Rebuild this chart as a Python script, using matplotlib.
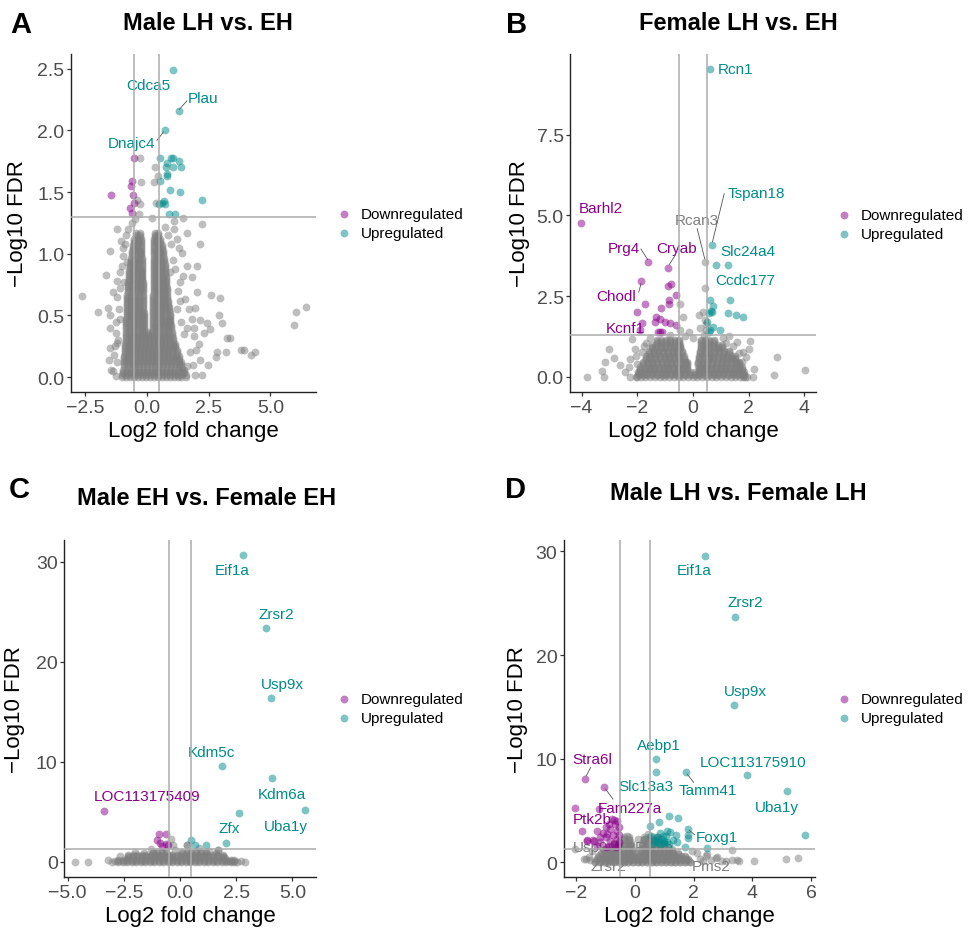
import matplotlib
matplotlib.use('Agg')
import matplotlib.pyplot as plt

plt.rcParams['font.family'] = ['Liberation Sans', 'DejaVu Sans']

GREY = '#7F7F7F'
DOWN = '#8B008B'
UP = '#008B8B'
LABEL_COLORS = {'up': UP, 'down': DOWN, 'ns': GREY}
FDR_CUT = 1.301
LFC_CUT = 0.5

# ---------------- Panel A : Male LH vs. EH ----------------
A_up = [(1.07, 2.49), (1.30, 2.16), (0.72, 2.00), (0.54, 1.78), (0.99, 1.78), (1.04, 1.78),
        (0.80, 1.74), (1.30, 1.75), (0.77, 1.70), (1.04, 1.70), (1.39, 1.70), (0.82, 1.65),
        (0.80, 1.63), (0.55, 1.59), (0.93, 1.52), (1.35, 1.50), (2.22, 1.44), (0.68, 1.43),
        (0.62, 1.41), (0.72, 1.40), (0.51, 1.40), (0.88, 1.32), (1.14, 1.32)]
A_down = [(-1.46, 1.48), (-0.53, 1.78), (-0.61, 1.59), (-0.64, 1.55), (-0.54, 1.48),
          (-0.53, 1.41), (-0.70, 1.37), (-0.59, 1.33)]
A_grey = [(-2.64, 0.66), (-1.99, 0.53), (-1.65, 0.83), (-1.50, 1.02), (-1.58, 0.56), (-1.49, 0.50),
          (-1.49, 0.40), (-1.24, 0.36), (-1.49, 0.24), (-1.55, 0.14), (-1.46, 0.06), (-1.24, 0.01),
          (-1.19, 1.20), (-0.95, 1.05), (-0.84, 1.15), (-1.01, 0.90), (-1.19, 0.78), (-1.35, 0.69),
          (-0.81, 0.93), (-1.08, 0.47), (-1.31, 0.18), (-1.22, 0.28), (-0.92, 0.77),
          (-0.26, 1.78), (-0.23, 1.58), (-0.38, 1.44), (-0.27, 1.40), (-0.30, 1.32), (0.34, 1.70),
          (0.30, 1.58), (0.38, 1.41), (0.47, 1.63), (0.20, 1.29), (-0.47, 1.28), (1.08, 1.27),
          (1.45, 1.29), (2.24, 1.24), (2.14, 1.08), (2.04, 0.90), (1.82, 0.81), (2.03, 0.69),
          (2.59, 0.67), (2.97, 0.64), (2.91, 0.50), (3.04, 0.44), (2.43, 0.44), (2.16, 0.46),
          (2.57, 0.39), (2.30, 0.36), (1.82, 0.47), (3.24, 0.32), (3.38, 0.32), (3.19, 0.20),
          (2.84, 0.20), (2.81, 0.16), (2.46, 0.10), (2.16, 0.14), (2.23, 0.02), (2.09, 0.27),
          (1.62, 0.40), (1.62, 0.09), (3.82, 0.22), (3.92, 0.22), (4.23, 0.18), (4.36, 0.20),
          (5.95, 0.42), (6.04, 0.53), (6.45, 0.57), (1.62, 1.17), (1.42, 1.01), (1.62, 0.90),
          (1.35, 0.77), (1.22, 1.12), (1.55, 0.63), (1.89, 0.33), (1.96, 0.56),
          (-1.05, 1.10), (-0.95, 0.98), (-1.10, 0.85), (-1.20, 0.65), (-1.12, 0.55), (-1.25, 0.45),
          (-1.15, 0.30), (-1.30, 0.25), (-1.20, 0.12), (-1.35, 0.05), (-1.10, 0.72), (-0.88, 1.08),
          (-0.75, 1.20), (-0.62, 1.25), (0.72, 1.22), (0.85, 1.15), (0.98, 1.08), (1.05, 0.95),
          (1.15, 0.88), (1.25, 0.70), (1.20, 0.55), (1.35, 0.62), (1.40, 0.45), (1.50, 0.35),
          (1.75, 0.20), (1.85, 0.10), (1.95, 0.02), (1.10, 1.20), (1.30, 1.05), (0.92, 0.85),
          (1.45, 0.82), (1.70, 0.55), (1.90, 0.40), (2.00, 0.22)]
# dense core: (FDR values of a band, fold changes of the genes in that band)
A_core_rows = [
    ([1.17, 1.153, 1.137], [-0.45, -0.29, 0.31, 0.47]),
    ([1.12, 1.103, 1.087], [-0.50, -0.37, -0.25, 0.30, 0.43, 0.55]),
    ([1.07, 1.053, 1.037], [-0.55, -0.40, -0.25, 0.29, 0.45, 0.62]),
    ([1.02, 1.003, 0.987], [-0.60, -0.44, -0.28, -0.23, 0.29, 0.42, 0.55, 0.67]),
    ([0.97, 0.953, 0.937], [-0.64, -0.48, -0.33, -0.21, 0.28, 0.42, 0.56, 0.70]),
    ([0.92, 0.903, 0.887], [-0.68, -0.52, -0.36, -0.20, 0.28, 0.43, 0.58, 0.73]),
    ([0.87, 0.853, 0.837], [-0.71, -0.55, -0.39, -0.23, -0.19, 0.27, 0.43, 0.59, 0.75]),
    ([0.82, 0.803, 0.787], [-0.73, -0.57, -0.41, -0.25, -0.18, 0.27, 0.40, 0.53, 0.66, 0.77]),
    ([0.77, 0.753, 0.737], [-0.75, -0.59, -0.43, -0.27, -0.17, 0.27, 0.40, 0.53, 0.66, 0.79]),
    ([0.72, 0.703, 0.687], [-0.77, -0.61, -0.45, -0.29, -0.17, 0.27, 0.41, 0.55, 0.69, 0.80]),
    ([0.67, 0.653, 0.637], [-0.79, -0.63, -0.47, -0.31, -0.16, 0.26, 0.40, 0.54, 0.68, 0.83]),
    ([0.62, 0.603, 0.587], [-0.80, -0.64, -0.48, -0.32, -0.15, 0.26, 0.41, 0.56, 0.71, 0.86]),
    ([0.57, 0.553, 0.537], [-0.81, -0.65, -0.49, -0.33, -0.14, 0.25, 0.41, 0.57, 0.73, 0.89]),
    ([0.52, 0.503, 0.487], [-0.82, -0.66, -0.50, -0.34, -0.18, -0.13, 0.25, 0.41, 0.57, 0.73, 0.92]),
    ([0.47, 0.453, 0.437], [-0.83, -0.67, -0.51, -0.35, -0.19, -0.12, 0.24, 0.40, 0.56, 0.72, 0.88, 0.95]),
    ([0.42, 0.403, 0.387], [-0.84, -0.68, -0.52, -0.36, -0.20, -0.11, 0.23, 0.39, 0.55, 0.71, 0.87, 0.98]),
    ([0.37, 0.353, 0.337], [-0.85, -0.69, -0.53, -0.37, -0.21, -0.10, 0.06, 0.22, 0.38, 0.54, 0.70, 0.86,
                            1.00]),
    ([0.32, 0.303, 0.287], [-0.86, -0.70, -0.54, -0.38, -0.22, -0.06, 0.10, 0.26, 0.42, 0.58, 0.74, 0.90,
                            1.05]),
    ([0.27, 0.253, 0.237], [-0.88, -0.72, -0.56, -0.40, -0.24, -0.08, 0.08, 0.24, 0.40, 0.56, 0.72, 0.88,
                            1.04, 1.12]),
    ([0.22, 0.203, 0.187], [-0.90, -0.74, -0.58, -0.42, -0.26, -0.10, 0.06, 0.22, 0.38, 0.54, 0.70, 0.86,
                            1.02, 1.20]),
    ([0.17, 0.153, 0.137], [-0.92, -0.76, -0.60, -0.44, -0.28, -0.12, 0.04, 0.20, 0.36, 0.52, 0.68, 0.84,
                            1.00, 1.16, 1.30]),
    ([0.12, 0.103, 0.087], [-0.94, -0.78, -0.62, -0.46, -0.30, -0.14, 0.02, 0.18, 0.34, 0.50, 0.66, 0.82,
                            0.98, 1.14, 1.30, 1.40]),
    ([0.06, 0.045, 0.03], [-0.97, -0.81, -0.65, -0.49, -0.33, -0.17, -0.01, 0.15, 0.31, 0.47, 0.63, 0.79,
                           0.95, 1.11, 1.27, 1.43, 1.50]),
    ([0.015, 0.00], [-1.00, -0.84, -0.68, -0.52, -0.36, -0.20, -0.04, 0.12, 0.28, 0.44, 0.60, 0.76, 0.92,
                     1.08, 1.24, 1.40, 1.60]),
]
A_labels = [("Cdca5", 0.07, 2.37, 'up', None),
            ("Plau", 2.27, 2.26, 'up', (1.62, 2.24, 1.31, 2.17)),
            ("Dnajc4", -0.64, 1.90, 'up', (0.41, 1.92, 0.68, 1.99))]
A_xticks = [-2.5, 0.0, 2.5, 5.0]
A_xticklabels = ['\u22122.5', '0.0', '2.5', '5.0']
A_yticks = [0.0, 0.5, 1.0, 1.5, 2.0, 2.5]
A_yticklabels = ['0.0', '0.5', '1.0', '1.5', '2.0', '2.5']

# ---------------- Panel B : Female LH vs. EH ----------------
B_up = [(0.60, 9.52), (0.68, 4.07), (0.81, 3.47), (1.25, 3.47), (0.61, 2.39), (1.34, 2.39),
        (0.71, 2.19), (0.67, 2.01), (0.59, 1.99), (0.63, 2.03), (1.25, 1.99), (1.53, 1.90),
        (1.81, 1.85), (0.50, 1.71), (0.73, 1.54), (0.97, 1.46), (0.61, 1.44), (0.56, 1.40)]
B_down = [(-4.01, 4.77), (-1.60, 3.56), (-0.90, 3.38), (-1.86, 2.96), (-0.91, 2.80), (-0.80, 2.86),
          (-0.60, 2.54), (-0.85, 2.39), (-1.71, 2.26), (-0.87, 2.26), (-2.00, 2.00), (-1.16, 2.12),
          (-1.33, 1.85), (-1.37, 1.71), (-1.19, 1.78), (-1.01, 1.70), (-0.83, 1.68), (-0.61, 1.61),
          (-1.84, 1.68), (-1.90, 1.46), (-1.27, 1.40), (-1.12, 1.40), (-1.19, 1.39)]
B_grey = [(-2.18, 1.18), (-3.01, 0.87), (-3.16, 0.46), (-2.83, 0.58), (-2.62, 0.35), (-3.28, 0.17),
          (-3.19, 0.00), (-3.80, 0.00), (-2.26, 0.56), (-2.44, 0.15), (-2.26, 0.00), (-2.02, 0.00),
          (-1.84, 0.77), (2.05, 1.10), (2.02, 0.87), (1.81, 0.77), (3.01, 0.61), (2.91, 0.06),
          (4.02, 0.20), (2.17, 0.00), (1.81, 0.00), (1.09, 1.20), (1.57, 1.08), (-0.83, 1.28),
          (-0.47, 2.27), (-0.35, 1.85), (0.23, 1.92), (0.37, 2.01), (0.43, 1.75), (0.47, 1.65),
          (0.44, 3.57), (0.44, 2.74), (-2.00, 0.40), (-2.10, 0.85), (-1.70, 1.05), (-1.55, 1.20),
          (-0.30, 1.25), (0.00, 1.20), (-0.15, 1.40), (1.30, 1.25), (1.45, 0.95), (1.75, 0.45),
          (1.90, 0.60), (2.20, 0.25), (-2.30, 0.30), (-1.95, 0.15), (0.25, 1.50), (-0.45, 1.45),
          (0.45, 1.45), (0.40, 1.30), (1.20, 1.05), (1.65, 0.75), (-1.75, 0.95), (-2.05, 0.65)]
B_core_rows = [
    ([1.15, 1.10, 1.05], [-1.30, -1.14, -0.98, -0.82, -0.66, -0.50, 0.27, 0.43, 0.59, 0.75]),
    ([0.98, 0.93, 0.88], [-1.48, -1.32, -1.16, -1.00, -0.84, -0.68, -0.52, -0.45, 0.27, 0.43, 0.59, 0.75,
                          0.91, 1.05]),
    ([0.81, 0.76, 0.71], [-1.58, -1.41, -1.24, -1.07, -0.90, -0.73, -0.56, -0.40, 0.25, 0.42, 0.59, 0.76,
                          0.93, 1.10, 1.28]),
    ([0.64, 0.59, 0.54], [-1.70, -1.53, -1.36, -1.19, -1.02, -0.85, -0.68, -0.51, -0.34, 0.22, 0.39, 0.56,
                          0.73, 0.90, 1.07, 1.24, 1.41, 1.50]),
    ([0.47, 0.42, 0.37], [-1.80, -1.63, -1.46, -1.29, -1.12, -0.95, -0.78, -0.61, -0.44, -0.27, -0.20, 0.18,
                          0.35, 0.52, 0.69, 0.86, 1.03, 1.20, 1.37, 1.54, 1.65]),
    ([0.30, 0.25, 0.20], [-1.90, -1.73, -1.56, -1.39, -1.22, -1.05, -0.88, -0.71, -0.54, -0.37, -0.20, 0.20,
                          0.31, 0.48, 0.65, 0.82, 0.99, 1.16, 1.33, 1.50, 1.67, 1.75]),
    ([0.14, 0.09, 0.045], [-1.98, -1.81, -1.64, -1.47, -1.30, -1.13, -0.96, -0.79, -0.62, -0.45, -0.28, -0.11,
                           0.06, 0.23, 0.40, 0.57, 0.74, 0.91, 1.08, 1.25, 1.42, 1.59, 1.76, 1.85]),
    ([0.00], [-2.05, -1.88, -1.71, -1.54, -1.37, -1.20, -1.03, -0.86, -0.69, -0.52, -0.35, -0.18, -0.01, 0.16,
              0.33, 0.50, 0.67, 0.84, 1.01, 1.18, 1.35, 1.52, 1.69, 1.86, 1.95]),
]
B_labels = [("Rcn1", 1.52, 9.53, 'up', None),
            ("Tspan18", 2.29, 5.69, 'up', (1.12, 5.67, 0.70, 4.18)),
            ("Barhl2", -3.33, 5.22, 'down', None),
            ("Rcan3", 0.12, 4.86, 'ns', (0.15, 4.59, 0.42, 3.66)),
            ("Prg4", -2.50, 4.00, 'down', (-1.87, 3.96, -1.63, 3.63)),
            ("Cryab", -0.59, 4.00, 'down', (-0.62, 3.79, -0.85, 3.48)),
            ("Slc24a4", 1.99, 3.91, 'up', None),
            ("Ccdc177", 1.87, 3.00, 'up', None),
            ("Chodl", -2.77, 2.51, 'down', (-1.95, 2.62, -1.87, 2.88)),
            ("Kcnf1", -2.43, 1.50, 'down', None)]
B_xticks = [-4, -2, 0, 2, 4]
B_xticklabels = ['\u22124', '\u22122', '0', '2', '4']
B_yticks = [0.0, 2.5, 5.0, 7.5]
B_yticklabels = ['0.0', '2.5', '5.0', '7.5']

# ---------------- Panel C : Male EH vs. Female EH ----------------
C_up = [(2.82, 30.7), (3.81, 23.4), (4.05, 16.4), (1.85, 9.6), (4.08, 8.4), (5.56, 5.2),
        (2.64, 4.9), (2.03, 1.93), (0.49, 2.16), (0.67, 1.66), (1.14, 1.73)]
C_down = [(-3.37, 5.1), (-0.93, 2.76), (-0.64, 2.76), (-1.04, 2.16), (-0.89, 1.93),
          (-0.62, 1.83), (-0.79, 1.56), (-0.52, 1.66)]
C_grey = [(-4.67, 0.0), (-4.08, 0.0), (-3.04, 0.0), (2.89, 0.0), (1.71, 1.16), (-2.00, 1.0),
          (-0.30, 1.66), (-2.37, 0.33), (-2.67, 0.6), (-2.90, 0.05), (2.52, 0.0), (2.20, 0.1),
          (1.60, 0.9), (1.85, 0.5), (-1.30, 1.3), (-1.60, 0.9), (0.85, 1.4), (0.30, 1.65),
          (2.00, 0.4), (-3.20, 0.2), (2.70, 0.05), (-0.42, 2.27), (0.33, 1.67), (1.71, 1.23),
          (-0.20, 1.20), (1.30, 1.10)]
C_core_rows = [
    ([0.00, 0.11, 0.22], [-2.75, -2.55, -2.35, -2.15, -1.95, -1.75, -1.55, -1.35, -1.15, -0.95, -0.75, -0.55,
                          -0.35, -0.15, 0.05, 0.25, 0.45, 0.65, 0.85, 1.05, 1.25, 1.45, 1.65, 1.85, 2.05,
                          2.25, 2.40]),
    ([0.45, 0.55, 0.65], [-2.30, -2.10, -1.90, -1.70, -1.50, -1.30, -1.10, -0.90, -0.70, -0.50, -0.35, -0.15,
                          0.05, 0.25, 0.45, 0.65, 0.85, 1.05, 1.25, 1.45, 1.65, 1.90]),
    ([0.85, 1.00], [-1.20, -1.00, -0.80, -0.60, 0.10, 0.30, 0.50, 0.70, 0.95, 1.15]),
]
C_labels = [("Eif1a", 2.33, 29.2, 'up', None),
            ("Zrsr2", 4.30, 24.8, 'up', None),
            ("Usp9x", 4.54, 17.8, 'up', None),
            ("Kdm5c", 1.38, 11.0, 'up', None),
            ("Kdm6a", 4.54, 6.83, 'up', None),
            ("Uba1y", 4.72, 3.57, 'up', None),
            ("Zfx", 2.17, 3.40, 'up', None),
            ("LOC113175409", -1.47, 6.57, 'down', None)]
C_xticks = [-5.0, -2.5, 0.0, 2.5, 5.0]
C_xticklabels = ['\u22125.0', '\u22122.5', '0.0', '2.5', '5.0']
C_yticks = [0, 10, 20, 30]
C_yticklabels = ['0', '10', '20', '30']

# ---------------- Panel D : Male LH vs. Female LH ----------------
D_up = [(2.37, 29.6), (3.41, 23.7), (3.36, 15.2), (0.73, 9.96), (0.70, 8.67), (1.75, 8.67),
        (3.83, 8.42), (5.18, 6.84), (5.79, 2.67), (2.46, 1.38), (1.80, 2.63), (1.79, 3.21),
        (0.83, 3.92), (1.17, 4.49), (1.48, 4.27), (0.52, 3.47), (1.09, 3.05), (1.20, 2.89),
        (0.86, 2.83), (0.97, 2.57), (1.43, 1.93), (1.71, 1.50), (1.39, 2.63), (1.82, 2.31),
        (0.70, 2.20), (0.80, 2.00), (0.90, 2.30), (1.00, 2.10), (1.10, 2.00), (0.75, 2.40),
        (0.95, 1.90), (0.60, 1.80), (1.05, 2.50), (0.65, 2.10), (0.85, 1.70), (1.15, 1.75),
        (1.30, 2.20), (0.55, 2.50)]
D_down = [(-1.69, 8.09), (-1.06, 7.29), (-2.03, 5.24), (-1.23, 5.14), (-1.80, 2.99), (-1.29, 2.99),
          (-1.63, 2.15), (-1.43, 2.15), (-0.79, 4.18), (-0.67, 3.69), (-0.84, 3.21), (-0.62, 3.05),
          (-0.96, 2.73), (-0.75, 2.60), (-0.62, 2.25), (-0.84, 2.09), (-1.00, 2.40), (-0.72, 1.80),
          (-0.58, 1.70), (-1.64, 2.09), (-1.41, 2.09), (-1.18, 1.93), (-0.90, 1.60), (-1.18, 2.40),
          (-0.55, 3.40), (-0.60, 4.00), (-0.70, 4.10), (-0.88, 3.70), (-1.00, 3.40), (-0.53, 2.60),
          (-0.65, 1.50), (-1.30, 1.60), (-1.00, 1.50), (-0.55, 2.00), (-1.10, 2.80)]
D_grey = [(3.32, 1.22), (3.47, 0.22), (3.53, 0.16), (4.07, 0.16), (5.14, 0.29), (5.57, 0.41),
          (3.32, 0.22), (2.79, 0.48), (2.45, 0.80), (2.43, 0.64), (3.11, 0.16), (2.77, 0.40),
          (0.46, 2.73), (0.35, 2.25), (-1.75, 0.32), (-1.52, 0.20), (-2.03, 1.28), (-0.27, 2.57),
          (-1.66, 0.32), (2.20, 0.30), (2.10, 0.90), (2.30, 0.10), (1.95, 1.10), (-1.55, 0.55),
          (-1.45, 1.10), (0.10, 2.30), (2.60, 0.20), (2.95, 0.10)]
D_core_rows = [
    ([2.45, 2.30, 2.15], [-0.38, -0.22, 0.32, 0.48, 0.64, 0.78]),
    ([1.85, 1.70, 1.55], [-0.70, -0.54, -0.38, -0.22, -0.15, 0.25, 0.41, 0.57, 0.73, 0.89, 1.00]),
    ([1.25, 1.10], [-1.05, -0.89, -0.73, -0.57, -0.41, -0.25, -0.10, 0.20, 0.36, 0.52, 0.68, 0.84, 1.00,
                    1.16, 1.25]),
    ([0.95, 0.80], [-1.15, -0.99, -0.83, -0.67, -0.51, -0.35, -0.19, -0.08, 0.17, 0.33, 0.49, 0.65, 0.81,
                    0.97, 1.13, 1.29, 1.45]),
    ([0.65, 0.50], [-1.25, -1.09, -0.93, -0.77, -0.61, -0.45, -0.29, -0.13, -0.05, 0.13, 0.29, 0.45, 0.61,
                    0.77, 0.93, 1.09, 1.25, 1.41, 1.57, 1.70]),
    ([0.32, 0.20], [-1.30, -1.14, -0.98, -0.82, -0.66, -0.50, -0.34, -0.18, -0.02, 0.14, 0.30, 0.46, 0.62,
                    0.78, 0.94, 1.10, 1.26, 1.42, 1.58, 1.74, 1.80]),
    ([0.00, 0.08], [-1.35, -1.19, -1.03, -0.87, -0.71, -0.55, -0.39, -0.23, -0.07, 0.09, 0.25, 0.41, 0.57,
                    0.73, 0.89, 1.05, 1.21, 1.37, 1.53, 1.69, 1.88]),
]
D_labels = [("Eif1a", 2.00, 28.2, 'up', None),
            ("Zrsr2", 3.77, 25.1, 'up', None),
            ("Usp9x", 3.75, 16.5, 'up', None),
            ("Aebp1", 0.82, 11.3, 'up', None),
            ("LOC113175910", 4.02, 9.73, 'up', None),
            ("Stra6l", -1.45, 9.96, 'down', (-1.51, 9.16, -1.66, 8.35)),
            ("Slc13a3", 0.36, 7.32, 'up', None),
            ("Tamm41", 2.49, 7.00, 'up', (2.00, 7.71, 1.78, 8.51)),
            ("Uba1y", 4.84, 5.30, 'up', None),
            ("Fam227a", -0.18, 5.20, 'down', (-0.75, 6.10, -1.00, 7.07)),
            ("Ptk2b", -1.47, 4.20, 'down', None),
            ("Foxg1", 2.79, 2.41, 'up', (2.03, 2.67, 1.84, 3.12)),
            ("Usp9x", -1.37, 1.45, 'ns', None),
            ("Ptk2b", 0.67, 1.45, 'ns', None),
            ("Zrsr2", -0.90, -0.33, 'ns', None),
            ("Pms2", 2.60, -0.33, 'ns', None)]
D_xticks = [-2, 0, 2, 4, 6]
D_xticklabels = ['\u22122', '0', '2', '4', '6']
D_yticks = [0, 10, 20, 30]
D_yticklabels = ['0', '10', '20', '30']

TITLES = ["Male LH vs. EH", "Female LH vs. EH", "Male EH vs. Female EH", "Male LH vs. Female LH"]
LETTERS = ["A", "B", "C", "D"]

# ---------------- layout (figure fractions / pixels) ----------------
W, H = 972, 929
panels = [
    dict(rect=[0.0727, 0.577, 0.2524, 0.3638], up=A_up, down=A_down, grey=A_grey, core=A_core_rows,
         labels=A_labels, xlim=(-3.08, 6.84), ylim=(-0.12, 2.62), xt=A_xticks, xtl=A_xticklabels,
         yt=A_yticks, ytl=A_yticklabels, leg=(336.5, 224.5), ylab_x=-0.2148,
         title=(208, 30), letter=(10, 33)),
    dict(rect=[0.5864, 0.577, 0.2531, 0.3638], up=B_up, down=B_down, grey=B_grey, core=B_core_rows,
         labels=B_labels, xlim=(-4.42, 4.42), ylim=(-0.47, 10.0), xt=B_xticks, xtl=B_xticklabels,
         yt=B_yticks, ytl=B_yticklabels, leg=(836.5, 225.5), ylab_x=-0.207,
         title=(738, 30), letter=(506, 33)),
    dict(rect=[0.0658, 0.0549, 0.2593, 0.3628], up=C_up, down=C_down, grey=C_grey, core=C_core_rows,
         labels=C_labels, xlim=(-5.16, 6.05), ylim=(-1.5, 32.2), xt=C_xticks, xtl=C_xticklabels,
         yt=C_yticks, ytl=C_yticklabels, leg=(336.5, 709.5), ylab_x=-0.1952,
         title=(207, 505), letter=(9, 498)),
    dict(rect=[0.5799, 0.0549, 0.2585, 0.3628], up=D_up, down=D_down, grey=D_grey, core=D_core_rows,
         labels=D_labels, xlim=(-2.43, 6.13), ylim=(-1.41, 31.1), xt=D_xticks, xtl=D_xticklabels,
         yt=D_yticks, ytl=D_yticklabels, leg=(836.5, 709.5), ylab_x=-0.182,
         title=(738, 500), letter=(505, 498)),
]

fig = plt.figure(figsize=(W / 100, H / 100), dpi=100)
MS = 32

for i, p in enumerate(panels):
    ax = fig.add_axes(p['rect'])
    gx = [pt[0] for pt in p['grey']]
    gy = [pt[1] for pt in p['grey']]
    for (ys, xs) in p['core']:
        for y in ys:
            gx.extend(xs)
            gy.extend([y] * len(xs))
    ax.scatter(gx, gy, s=MS, c=GREY, alpha=0.5, linewidths=0, zorder=2)
    ax.scatter([pt[0] for pt in p['down']], [pt[1] for pt in p['down']], s=MS, c=DOWN,
               alpha=0.5, linewidths=0, zorder=2.1, label='Downregulated')
    ax.scatter([pt[0] for pt in p['up']], [pt[1] for pt in p['up']], s=MS, c=UP,
               alpha=0.5, linewidths=0, zorder=2.1, label='Upregulated')
    for v in (-LFC_CUT, LFC_CUT):
        ax.axvline(v, color='#ABABAB', lw=1.1, zorder=3)
    ax.axhline(FDR_CUT, color='#ABABAB', lw=1.1, zorder=3)

    for (txt, tx, ty, kind, seg) in p['labels']:
        ax.text(tx, ty, txt, color=LABEL_COLORS[kind], fontsize=11, ha='center', va='center',
                zorder=1.5)
        if seg is not None:
            ax.plot([seg[0], seg[2]], [seg[1], seg[3]], color='#555555', lw=0.6, zorder=1.6)

    ax.set_xlim(*p['xlim'])
    ax.set_ylim(*p['ylim'])
    ax.set_xticks(p['xt'])
    ax.set_xticklabels(p['xtl'])
    ax.set_yticks(p['yt'])
    ax.set_yticklabels(p['ytl'])
    ax.tick_params(axis='both', labelsize=14, labelcolor='#4D4D4D', color='#333333',
                   length=3, width=0.9)
    ax.tick_params(axis='x', pad=2)
    ax.tick_params(axis='y', pad=1.5)
    for s in ('top', 'right'):
        ax.spines[s].set_visible(False)
    for s in ('left', 'bottom'):
        ax.spines[s].set_color('#222222')
        ax.spines[s].set_linewidth(1.0)

    ax.set_xlabel('Log2 fold change', fontsize=16, va='center')
    ax.xaxis.set_label_coords(0.5, -0.1154)
    ax.set_ylabel('\u2212Log10 FDR', fontsize=16, va='center', ha='center')
    ax.yaxis.set_label_coords(p['ylab_x'], 0.5)

    lx, ly = p['leg']
    ax.legend(loc='center left', bbox_to_anchor=(lx / W, 1 - ly / H), bbox_transform=fig.transFigure,
              frameon=False, fontsize=11, handlelength=1.0, handletextpad=0.6, borderpad=0,
              borderaxespad=0, labelspacing=0.32, scatterpoints=1)

    tx, tb = p['title']
    fig.text(tx / W, 1 - tb / H, TITLES[i], ha='center', va='baseline', fontsize=17,
             fontweight='bold')
    lx2, lb = p['letter']
    fig.text(lx2 / W, 1 - lb / H, LETTERS[i], ha='left', va='baseline', fontsize=21,
             fontweight='bold')

fig.savefig('out.png', dpi=100)
